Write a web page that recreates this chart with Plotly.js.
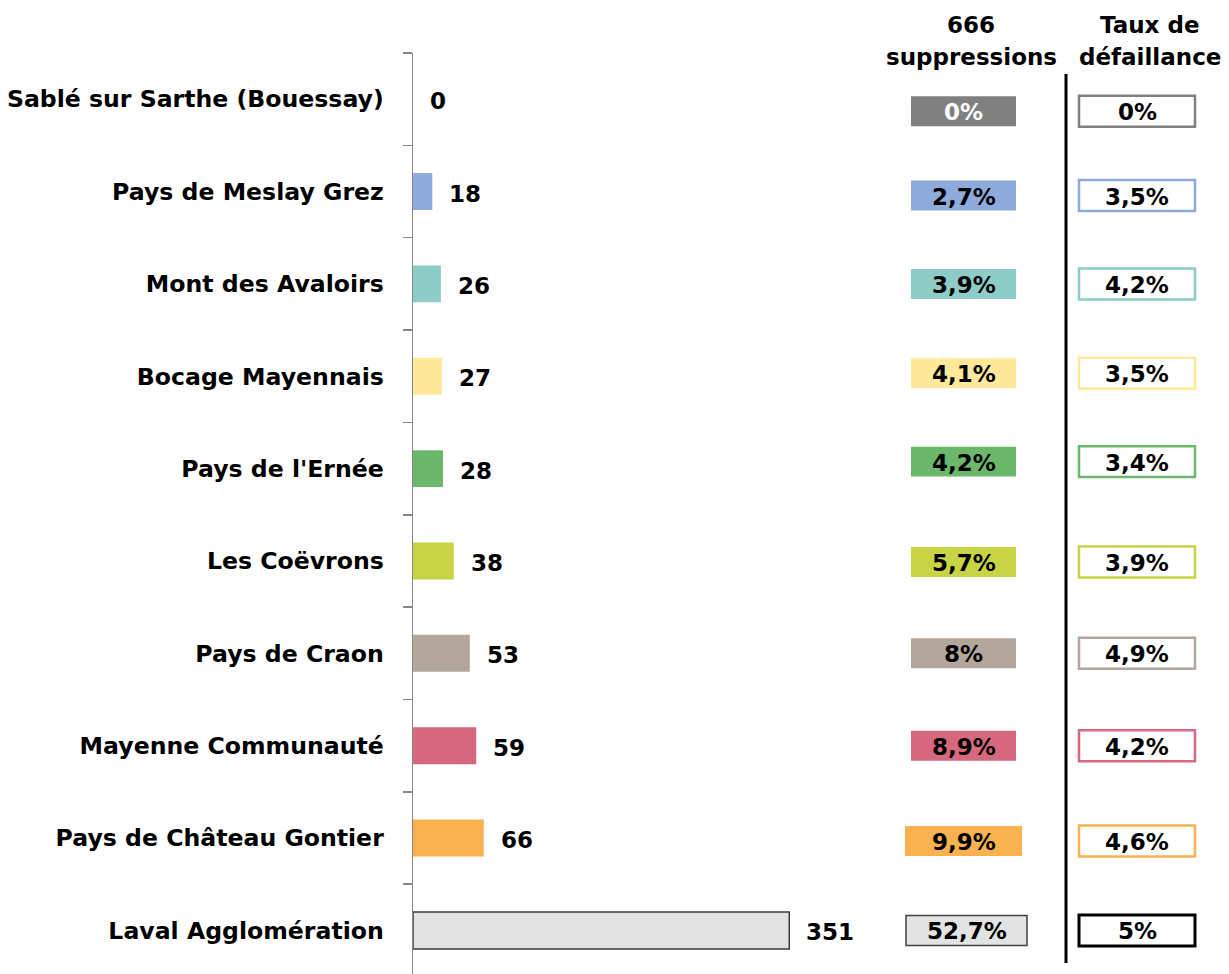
<!DOCTYPE html>
<html>
<head>
<meta charset="utf-8">
<script src="https://cdn.plot.ly/plotly-3.0.1.min.js"></script>
<style>html,body{margin:0;padding:0;background:#fff;}#chart{width:1229px;height:974px;}</style>
</head>
<body>
<div id="chart"></div>
<script>
// ---- data ----
const categories = ["Sablé sur Sarthe (Bouessay)", "Pays de Meslay Grez", "Mont des Avaloirs", "Bocage Mayennais", "Pays de l'Ernée", "Les Coëvrons", "Pays de Craon", "Mayenne Communauté", "Pays de Château Gontier", "Laval Agglomération"];
const suppressions = [0, 18, 26, 27, 28, 38, 53, 59, 66, 351];
const partSuppressions = [0, 2.7, 3.9, 4.1, 4.2, 5.7, 8, 8.9, 9.9, 52.7];
const tauxDefaillance = [0, 3.5, 4.2, 3.5, 3.4, 3.9, 4.9, 4.2, 4.6, 5];
const headerSuppr = ["666", "suppressions"];
const headerTaux = ["Taux de", "défaillance"];

// ---- styles ----
const colors = ["#808080", "#8EABDC", "#8ECCC8", "#FEE99B", "#6CB86B", "#C7D544", "#B3A69A", "#D6697D", "#F9B24F", "#E3E3E3"];
const taux_border = ["#808080", "#8EABDC", "#8ECCC8", "#FEE99B", "#6CB86B", "#C7D544", "#B3A69A", "#D6697D", "#F9B24F", "#000000"];
const boxTextColor = ["#ffffff", "#000", "#000", "#000", "#000", "#000", "#000", "#000", "#000", "#000"];
const box1Left = [911, 911, 911, 911, 911, 911, 911, 911, 905, 906];
const box1Right = [1016, 1016, 1016, 1016, 1016, 1016, 1016, 1016, 1022, 1027];
const boxShift = [12, 4, 0, -3, -7, 1, 0, 0, 3, 0]; // px

const W = 1229, H = 974, ML = 413, MT = 53;
const PW = W - ML, PH = H - MT;
const PXPERUNIT = 1.072, ROWPX = 92.4;
const px2paperX = p => (p - ML) / PW;
const px2paperY = p => (H - p) / PH;
const fmt = v => String(v).replace('.', ',') + '%';
const F = {family: "DejaVu Sans", size: 23, color: "#000", weight: "bold"};

const trace = {
  type: 'bar', orientation: 'h',
  x: suppressions, y: categories,
  width: 0.4,
  marker: {
    color: colors,
    line: {color: categories.map((c, i) => i === 9 ? '#3c3c3c' : colors[i]), width: categories.map((c, i) => i === 9 ? 1.5 : 0)}
  },
  hoverinfo: 'none', cliponaxis: false
};

const annotations = [];
const shapes = [];
categories.forEach((c, i) => {
  annotations.push({x: suppressions[i], y: c, xref: 'x', yref: 'y', text: String(suppressions[i]),
    xanchor: 'left', yanchor: 'middle', xshift: 15, yshift: -2, showarrow: false, font: F});
  const sh = boxShift[i] / ROWPX;
  const half = 15 / ROWPX;
  shapes.push({type: 'rect', xref: 'paper', yref: 'y',
    x0: px2paperX(box1Left[i]), x1: px2paperX(box1Right[i]),
    y0: i + sh - half, y1: i + sh + half,
    fillcolor: colors[i], line: {color: i === 9 ? '#404040' : colors[i], width: i === 9 ? 1.5 : 0}, layer: 'above'});
  annotations.push({x: px2paperX((box1Left[i] + box1Right[i]) / 2), y: i + sh, xref: 'paper', yref: 'y',
    text: fmt(partSuppressions[i]), showarrow: false, xanchor: 'center', yanchor: 'middle', yshift: -1,
    font: Object.assign({}, F, {color: boxTextColor[i]})});
  const half2 = 15.5 / ROWPX;
  shapes.push({type: 'rect', xref: 'paper', yref: 'y',
    x0: px2paperX(1079), x1: px2paperX(1195),
    y0: i + sh - half2, y1: i + sh + half2,
    fillcolor: '#ffffff', line: {color: taux_border[i], width: i === 9 ? 3 : 2.5}, layer: 'above'});
  annotations.push({x: px2paperX(1137), y: i + sh, xref: 'paper', yref: 'y',
    text: fmt(tauxDefaillance[i]), showarrow: false, xanchor: 'center', yanchor: 'middle', yshift: -1, font: F});
});

// vertical separator
shapes.push({type: 'line', xref: 'paper', yref: 'paper', x0: px2paperX(1066), x1: px2paperX(1066),
  y0: px2paperY(963), y1: px2paperY(74), line: {color: '#000', width: 3}});

// headers
[[headerSuppr, 971], [headerTaux, 1150]].forEach(([h, cx]) => {
  h.forEach((t, k) => {
    annotations.push({x: px2paperX(cx), y: px2paperY(k === 0 ? 25 : 57), xref: 'paper', yref: 'paper',
      text: t, showarrow: false, xanchor: 'center', yanchor: 'middle', font: F});
  });
});

const layout = {
  width: W, height: H,
  margin: {l: ML, r: 0, t: MT, b: 0, pad: 0},
  paper_bgcolor: '#fff', plot_bgcolor: '#fff',
  showlegend: false,
  xaxis: {range: [0, PW / PXPERUNIT], visible: false, fixedrange: true},
  yaxis: {
    type: 'category', categoryorder: 'array', categoryarray: categories,
    range: [9.5 - 2.6 / ROWPX, -0.5],
    showline: true, linecolor: '#878787', linewidth: 1.5,
    ticks: 'outside', tickson: 'boundaries', ticklen: 9, tickcolor: '#878787', tickwidth: 1.5,
    tickfont: Object.assign({}, F, {size: 23.6}), ticklabelstandoff: 23,
    showgrid: false, zeroline: false, fixedrange: true
  },
  annotations: annotations,
  shapes: shapes,
  bargap: 0
};

Plotly.newPlot('chart', [trace], layout, {staticPlot: true, displayModeBar: false});
</script>
</body>
</html>
